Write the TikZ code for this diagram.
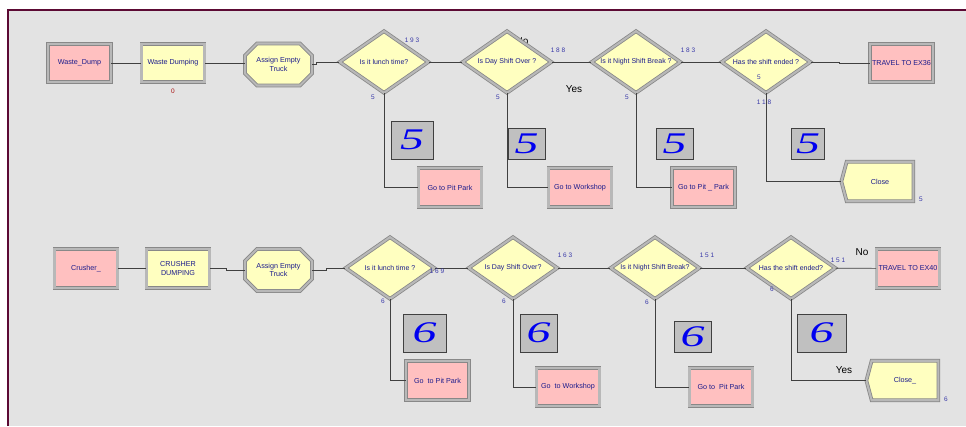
\documentclass[tikz,border=0pt]{standalone}
\usepackage{fontspec}
\setmainfont{Liberation Sans}
\newfontfamily\countfont{Liberation Serif}
\usepackage{graphicx}
\usepackage{tikz}
\usetikzlibrary{shapes.geometric, shapes.misc, shapes.symbols}
\definecolor{canvasGray}{HTML}{E3E3E3}
\definecolor{frameMaroon}{HTML}{5C0A34}
\definecolor{boxPink}{HTML}{FFC0C0}
\definecolor{boxYellow}{HTML}{FFFFC0}
\definecolor{bevelDark}{HTML}{888888}
\definecolor{bevelLight}{HTML}{B8B8B8}
\definecolor{counterGray}{HTML}{C0C0C0}
\definecolor{labelNavy}{HTML}{1C1C8C}
\definecolor{countBlue}{HTML}{0000F0}
\definecolor{tallyBlue}{HTML}{3838A8}
\definecolor{tallyRed}{HTML}{A81010}
\definecolor{lineGray}{HTML}{404040}

\begin{document}
\begin{tikzpicture}[x=1pt, y=-1pt,
    bevel/.style={draw=bevelDark, double=bevelLight, double distance=2.1pt, line width=0.8pt},
    module/.style={bevel, rectangle, minimum width=63pt, minimum height=38.5pt, inner sep=1pt,
        font=\fontsize{7.2}{8.5}\selectfont, text=labelNavy, align=center},
    srcbox/.style={module, fill=boxPink},
    procbox/.style={module, fill=boxYellow},
    assignbox/.style={module, chamfered rectangle, chamfered rectangle sep=6pt, fill=boxYellow,
        minimum width=67pt, minimum height=42pt},
    qtext/.style={font=\fontsize{7}{8}\selectfont, text=labelNavy, inner sep=0pt},
    decision/.style={bevel, diamond, aspect=1.4, fill=boxYellow, inner sep=0pt,
        minimum width=89pt, minimum height=62pt, label={[qtext]center:#1}},
    exitbox/.style={module, signal, signal to=west, signal from=nowhere, signal pointer angle=150,
        fill=boxYellow, minimum width=72pt, minimum height=39.5pt},
    counter/.style={rectangle, draw=lineGray, line width=0.8pt, fill=counterGray, inner sep=0pt,
        text=countBlue, font=\countfont\itshape\fontsize{30}{30}\selectfont},
    tally/.style={font=\fontsize{6.5}{7}\selectfont, text=tallyBlue, inner sep=0pt},
    answer/.style={font=\fontsize{10}{11}\selectfont, text=black, inner sep=0pt},
    link/.style={draw=lineGray, line width=0.7pt}]

    \useasboundingbox (0,0) rectangle (966,426);
    \fill[white] (0,0) rectangle (966,426);
    \fill[canvasGray] (8,10) rectangle (966,426);
    \draw[frameMaroon, line width=1.6pt] (8,426) -- (8,10) -- (966,10);

    \node[answer] (no1) at (522,41) {No};

    \node[srcbox] (wd) at (79.5,63) {Waste\_Dump};
    \node[procbox] (wdp) at (173,63) {Waste Dumping};
    \node[assignbox] (aet1) at (278.5,64.5) {Assign Empty\\Truck};
    \node[decision={Is it lunch time?}] (d1) at (384,62) {};
    \node[decision={Is Day Shift Over ?}] (d2) at (507,62) {};
    \node[decision={Is it Night Shift Break ?}] (d3) at (636,62) {};
    \node[decision={Has the shift ended ?}] (d4) at (766,62) {};
    \node[srcbox] (tr36) at (901.5,63) {TRAVEL TO EX36};
    \node[srcbox] (g1) at (450,187.5) {Go to Pit Park};
    \node[srcbox] (g2) at (580,187.5) {Go to Workshop};
    \node[srcbox] (g3) at (703.5,187.5) {Go to Pit \_ Park};
    \node[exitbox] (cl1) at (880,181.5) {Close};

    \node[srcbox] (cr) at (86,268.5) {Crusher\_};
    \node[procbox] (cd) at (178,268.5) {CRUSHER\\DUMPING};
    \node[assignbox] (aet2) at (278.5,270) {Assign Empty\\Truck};
    \node[decision={Is it lunch time ?}] (e1) at (390,268) {};
    \node[decision={Is Day Shift Over?}] (e2) at (513,268) {};
    \node[decision={Is it Night Shift Break?}] (e3) at (655,268) {};
    \node[decision={Has the shift ended?}] (e4) at (791,268) {};
    \node[srcbox] (tr40) at (908,268.5) {TRAVEL TO EX40};
    \node[srcbox] (h1) at (437.5,380.5) {Go\ \ to Pit Park};
    \node[srcbox] (h2) at (568,387) {Go\ \ to Workshop};
    \node[srcbox] (h3) at (721,387) {Go to\ \ Pit Park};
    \node[exitbox] (cl2) at (905,380.5) {Close\_};

    \draw[link] (wd) -- (wdp);
    \draw[link] (wdp) -- (aet1.west |- wdp);
    \draw[link] (aet1.east) -- ++(4,0) |- (d1.west);
    \draw[link] (d1) -- (d2);
    \draw[link] (d2) -- (d3);
    \draw[link] (d3) -- (d4);
    \draw[link] (d4.east) -- ++(28,0) |- (tr36.west);
    \draw[link] (d1.south) |- (g1.west);
    \draw[link] (d2.south) |- (g2.west);
    \draw[link] (d3.south) |- (g3.west);
    \draw[link] (d4.south) |- (cl1.west);

    \draw[link] (cr) -- (cd);
    \draw[link] (cd.east) -- ++(16,0) |- (aet2.west);
    \draw[link] (aet2.east) -- ++(14,0) |- (e1.west);
    \draw[link] (e1) -- (e2);
    \draw[link] (e2) -- (e3);
    \draw[link] (e3) -- (e4);
    \draw[link] (e4) -- (tr40);
    \draw[link] (e1.south) |- (h1.west);
    \draw[link] (e2.south) |- (h2.west);
    \draw[link] (e3.south) |- (h3.west);
    \draw[link] (e4.south) |- (cl2.west);

    \foreach \n/\x/\y/\w/\h/\d in {k1/412/140/42/38/5, k2/526.5/143.5/37/31/5,
            k3/674.5/143.5/37/31/5, k4/808/143.5/33/31/5,
            m1/424.5/333/43/38/6, m2/538.5/333/37/38/6,
            m3/692.5/336.5/37/31/6, m4/821.5/333/49/38/6}
        \node[counter, minimum width=\w pt, minimum height=\h pt] (\n) at (\x,\y) {\scalebox{1.6}[1]{\d}};

    \foreach \n/\x/\y/\t in {s1/412/40/1 9 3, s2/373/97/5, s3/558/50.5/1 8 8, s4/498/97/5,
            s5/688/50/1 8 3, s6/627/97/5, s7/759/77.5/5, s8/764/102.5/1 1 8, s9/921/199/5,
            u1/437/271.5/1 6 9, u2/383/301.5/6, u3/565/255/1 6 3, u4/504/301.5/6,
            u5/707/255/1 5 1, u6/647/302/6, u7/772/289/6, u8/838/260/1 5 1, u9/946/399/6}
        \node[tally] (\n) at (\x,\y) {\t};
    \node[tally, text=tallyRed] (s0) at (173,91) {0};

    \node[answer] (yes1) at (574,89) {Yes};
    \node[answer] (no2) at (862,252) {No};
    \node[answer] (yes2) at (844,370) {Yes};
\end{tikzpicture}
\end{document}
